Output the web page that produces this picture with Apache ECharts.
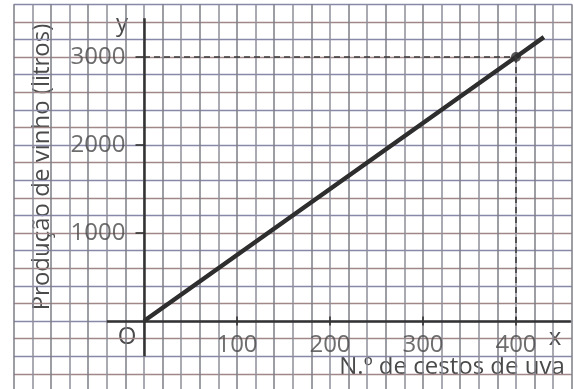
<!DOCTYPE html>
<html>
<head>
<meta charset="utf-8">
<script src="https://cdn.jsdelivr.net/npm/echarts@6/dist/echarts.min.js"></script>
<style>
  html, body { margin: 0; padding: 0; background: #fff; }
  #chart { width: 574px; height: 389px; }
</style>
</head>
<body>
<div id="chart"></div>
<script>
// reta: produção de vinho em função do n.º de cestos
const cestos = [0, 400, 430]
const litros = [0, 3000, 3225]
// ponto assinalado na reta
const pontoX = [400]
const pontoY = [3000]
// marcas e rótulos nos eixos
const xTicks = [100, 200, 300, 400]
const yTicks = [1000, 2000, 3000]
// extensão das setas dos eixos
const xAxisSpan = [-40, 459]
const yAxisSpan = [-400, 3440]

const FONT = '"Open Sans", "Noto Sans", sans-serif'
const FS = 24
const INK = '#333'
const TXT = '#4a4a4a'

let chart = echarts.init(document.getElementById('chart'))

let option = {
  animation: false,
  grid: { left: 13.8, right: 2.2, top: 4.2, bottom: -2.4, containLabel: false, outerBoundsMode: 'none' },
  xAxis: {
    type: 'value', min: -140, max: 460, interval: 20,
    axisLine: { show: false },
    axisTick: { show: false },
    axisLabel: { show: false },
    // papel quadriculado
    splitLine: { show: true, lineStyle: { color: ['#7c7c86', '#8e8e98'], width: 1.5 } }
  },
  yAxis: {
    type: 'value', min: -800, max: 3600, interval: 200,
    axisLine: { show: false },
    axisTick: { show: false },
    axisLabel: { show: false },
    splitLine: { show: true, lineStyle: { color: ['#8888a8', '#a08888'], width: 1.4 } }
  },
  series: [
    {
      // eixos com setas
      type: 'line', data: [], silent: true,
      markLine: {
        silent: true, animation: false,
        symbol: ['none', 'arrow'], symbolSize: [0, 11],
        label: { show: false },
        lineStyle: { color: INK, width: 2.5, type: 'solid' },
        data: [
          [{ coord: [xAxisSpan[0], 0] }, { coord: [xAxisSpan[1], 0] }],
          [{ coord: [0, yAxisSpan[0]] }, { coord: [0, yAxisSpan[1]] }]
        ]
      }
    },
    {
      type: 'scatter', silent: true, symbol: 'rect', symbolSize: [2, 9],
      itemStyle: { color: INK },
      label: {
        show: true, position: 'bottom', distance: 8,
        fontSize: FS, fontFamily: FONT, color: TXT,
        formatter: p => String(p.value[0])
      },
      data: xTicks.map(v => [v, 0])
    },
    {
      type: 'scatter', silent: true, symbol: 'rect', symbolSize: [9, 2], symbolOffset: [-4, 0],
      itemStyle: { color: INK },
      label: {
        show: true, position: 'left', distance: 10,
        fontSize: FS, fontFamily: FONT, color: TXT,
        formatter: p => String(p.value[1])
      },
      data: yTicks.map(v => [0, v])
    },
    {
      type: 'line', silent: true, symbol: 'none',
      lineStyle: { color: '#2e2e2e', width: 4.5 },
      data: cestos.map((c, i) => [c, litros[i]]),
      markLine: {
        silent: true, animation: false, symbol: ['none', 'none'],
        label: { show: false },
        lineStyle: { color: '#3a3a3a', width: 1.5, type: [6, 4] },
        data: [
          [{ coord: [0, pontoY[0]] }, { coord: [pontoX[0], pontoY[0]] }],
          [{ coord: [pontoX[0], pontoY[0]] }, { coord: [pontoX[0], 0] }]
        ]
      }
    },
    {
      type: 'scatter', silent: true, symbol: 'circle', symbolSize: 10,
      itemStyle: { color: '#2e2e2e' },
      data: pontoX.map((x, i) => [x, pontoY[i]])
    }
  ],
  graphic: [
    { type: 'text', x: 127, y: 337, style: { text: 'O', font: FS + 'px ' + FONT, fill: TXT, align: 'center', verticalAlign: 'middle' } },
    { type: 'text', x: 555, y: 338, style: { text: 'x', font: FS + 'px ' + FONT, fill: TXT, align: 'center', verticalAlign: 'middle' } },
    { type: 'text', x: 122, y: 24, style: { text: 'y', font: FS + 'px ' + FONT, fill: TXT, align: 'center', verticalAlign: 'middle' } },
    { type: 'text', x: 452, y: 367, style: { text: 'N.º de cestos de uva', font: FS + 'px ' + FONT, fill: TXT, align: 'center', verticalAlign: 'middle' } },
    { type: 'text', x: 42, y: 167, rotation: Math.PI / 2,
      style: { text: 'Produção de vinho (litros)', font: FS + 'px ' + FONT, fill: TXT, align: 'center', verticalAlign: 'middle' } }
  ]
}

chart.setOption(option)
</script>
</body>
</html>
